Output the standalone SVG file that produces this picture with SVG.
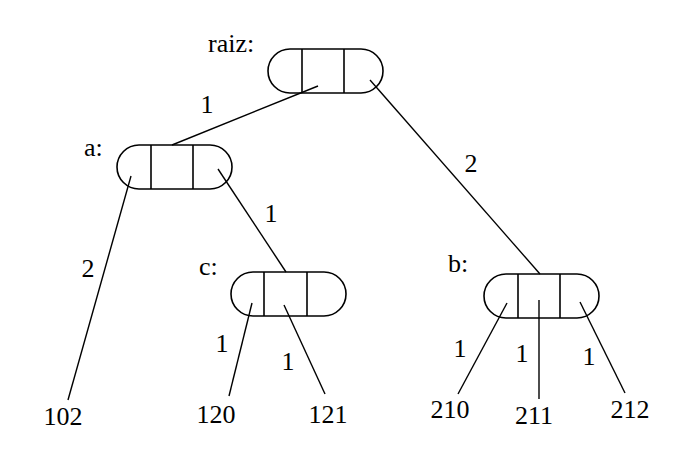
<svg xmlns="http://www.w3.org/2000/svg" width="691" height="462" viewBox="0 0 691 462">
<style>
.n{fill:#fff;stroke:#000;stroke-width:1.6}
.d{stroke:#000;stroke-width:1.6}
.e{stroke:#000;stroke-width:1.4;fill:none}
.t{font-size:26px;fill:#000}
.m{text-anchor:middle}
</style>
<rect width="691" height="462" fill="#fff"/>
<g font-family="Liberation Serif, Times New Roman, serif">
<g id="raiz">
<text class="t" x="208" y="52">raiz:</text>
<rect class="n" x="268" y="49" width="115" height="44" rx="22" ry="22"/>
<line class="d" x1="302" y1="49" x2="302" y2="93"/>
<line class="d" x1="344" y1="49" x2="344" y2="93"/>
</g>
<g id="a">
<text class="t" x="84" y="156">a:</text>
<rect class="n" x="117" y="145" width="115" height="44" rx="22" ry="22"/>
<line class="d" x1="151" y1="145" x2="151" y2="189"/>
<line class="d" x1="193" y1="145" x2="193" y2="189"/>
</g>
<g id="c">
<text class="t" x="199" y="275">c:</text>
<rect class="n" x="231" y="272" width="115" height="44" rx="22" ry="22"/>
<line class="d" x1="264" y1="272" x2="264" y2="316"/>
<line class="d" x1="307" y1="272" x2="307" y2="316"/>
</g>
<g id="b">
<text class="t" x="448" y="272">b:</text>
<rect class="n" x="484" y="274" width="115" height="44" rx="22" ry="22"/>
<line class="d" x1="518" y1="274" x2="518" y2="318"/>
<line class="d" x1="560" y1="274" x2="560" y2="318"/>
</g>
<g id="connectors">
<line class="e" x1="318" y1="86" x2="172" y2="145"/>
<line class="e" x1="370" y1="80" x2="540" y2="274"/>
<line class="e" x1="131" y1="176" x2="68" y2="400"/>
<line class="e" x1="218" y1="169" x2="286" y2="272"/>
<line class="e" x1="252" y1="303" x2="229" y2="396"/>
<line class="e" x1="284" y1="305" x2="325" y2="394"/>
<line class="e" x1="507" y1="303" x2="458" y2="394"/>
<line class="e" x1="539" y1="300" x2="539" y2="399"/>
<line class="e" x1="580" y1="302" x2="625" y2="393"/>
<text class="t m" x="207" y="113">1</text>
<text class="t m" x="471" y="172">2</text>
<text class="t m" x="88" y="277">2</text>
<text class="t m" x="271" y="222">1</text>
<text class="t m" x="222" y="352">1</text>
<text class="t m" x="288" y="370">1</text>
<text class="t m" x="460" y="357">1</text>
<text class="t m" x="522" y="362">1</text>
<text class="t m" x="589" y="365">1</text>
</g>
<g id="leaf102"><text class="t m" x="63" y="425">102</text></g>
<g id="leaf120"><text class="t m" x="216" y="423">120</text></g>
<g id="leaf121"><text class="t m" x="328" y="423">121</text></g>
<g id="leaf210"><text class="t m" x="450" y="418">210</text></g>
<g id="leaf211"><text class="t m" x="534" y="424">211</text></g>
<g id="leaf212"><text class="t m" x="630" y="418">212</text></g>
</g>
</svg>
